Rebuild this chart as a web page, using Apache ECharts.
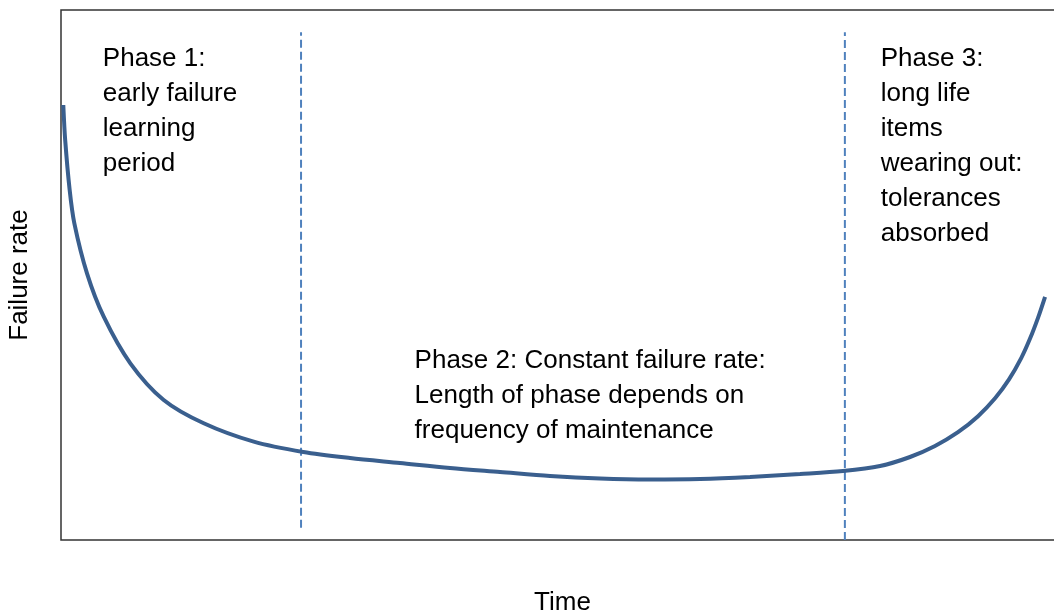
<!DOCTYPE html>
<html>
<head>
<meta charset="utf-8">
<script src="https://cdn.jsdelivr.net/npm/echarts@6/dist/echarts.min.js"></script>
<style>html,body{margin:0;padding:0;background:#fff}#c{width:1054px;height:612px}</style>
</head>
<body>
<div id="c"></div>
<script>
// Time (0-100) and failure rate (0-100)
const time = [0.23, 0.42, 0.87, 1.34, 2.61, 4.29, 6.96, 10.31, 14.33, 19.35, 24.33, 29.02, 34.04, 39.06, 44.08, 49.10, 54.12, 59.14, 64.16, 69.18, 74.20, 78.51, 82.23, 85.24, 87.75, 90.06, 92.07, 93.78, 95.18, 96.39, 97.29, 98.09, 98.80];
const failureRate = [82.08, 75.47, 66.04, 59.75, 50.32, 42.13, 33.34, 26.42, 22.02, 18.55, 16.60, 15.47, 14.53, 13.58, 12.83, 12.08, 11.60, 11.42, 11.51, 11.89, 12.45, 13.02, 13.96, 15.66, 17.74, 20.34, 23.36, 26.74, 30.30, 34.26, 38.00, 41.92, 45.89];
const phaseBoundaries = [24.1, 78.7];
const boundaryTop = [95.8, 95.8];
const boundaryBottom = [2.3, 0];
const annotationX = [4.2, 35.5, 82.3];
const annotationY = [94.1, 37.2, 94.1];
const annotationText = [
  'Phase 1:\nearly failure\nlearning\nperiod',
  'Phase 2: Constant failure rate:\nLength of phase depends on\nfrequency of maintenance',
  'Phase 3:\nlong life\nitems\nwearing out:\ntolerances\nabsorbed'
];
const xTitle = 'Time';
const yTitle = 'Failure rate';

const chart = echarts.init(document.getElementById('c'), null, {renderer: 'canvas'});
const font = 'Liberation Sans';
const curve = time.map((t, i) => [t, failureRate[i]]);
const series = [{
  type: 'line', data: curve, smooth: 0.3, showSymbol: false, silent: true,
  lineStyle: {color: '#3a5f8e', width: 4}, z: 3
}];
phaseBoundaries.forEach((b, i) => {
  series.push({
    type: 'line', data: [[b, boundaryBottom[i]], [b, boundaryTop[i]]], showSymbol: false, silent: true,
    lineStyle: {color: '#4f81bd', width: 2, type: [8, 4]}, z: 2
  });
});

chart.setOption({
  animation: false,
  grid: {left: 61, top: 10, right: -10, bottom: 72, show: true, borderColor: '#333', borderWidth: 1.5, containLabel: false, outerBoundsMode: 'none'},
  xAxis: {type: 'value', min: 0, max: 100.7, axisLine: {show: false}, axisTick: {show: false}, axisLabel: {show: false}, splitLine: {show: false},
    name: xTitle, nameLocation: 'middle', nameGap: 50, nameTextStyle: {color: '#000', fontSize: 26, fontFamily: font}},
  yAxis: {type: 'value', min: 0, max: 100, axisLine: {show: false}, axisTick: {show: false}, axisLabel: {show: false}, splitLine: {show: false},
    name: yTitle, nameLocation: 'middle', nameGap: 28, nameTextStyle: {color: '#000', fontSize: 26, fontFamily: font}},
  series: series
});

const texts = annotationText.map((t, i) => {
  const p = chart.convertToPixel({gridIndex: 0}, [annotationX[i], annotationY[i]]);
  return {type: 'text', x: p[0], y: p[1], silent: true, z: 10,
    style: {text: t, fill: '#000', font: '26px "Liberation Sans"', lineHeight: 35, align: 'left', verticalAlign: 'top'}};
});
chart.setOption({graphic: texts});
</script>
</body>
</html>
